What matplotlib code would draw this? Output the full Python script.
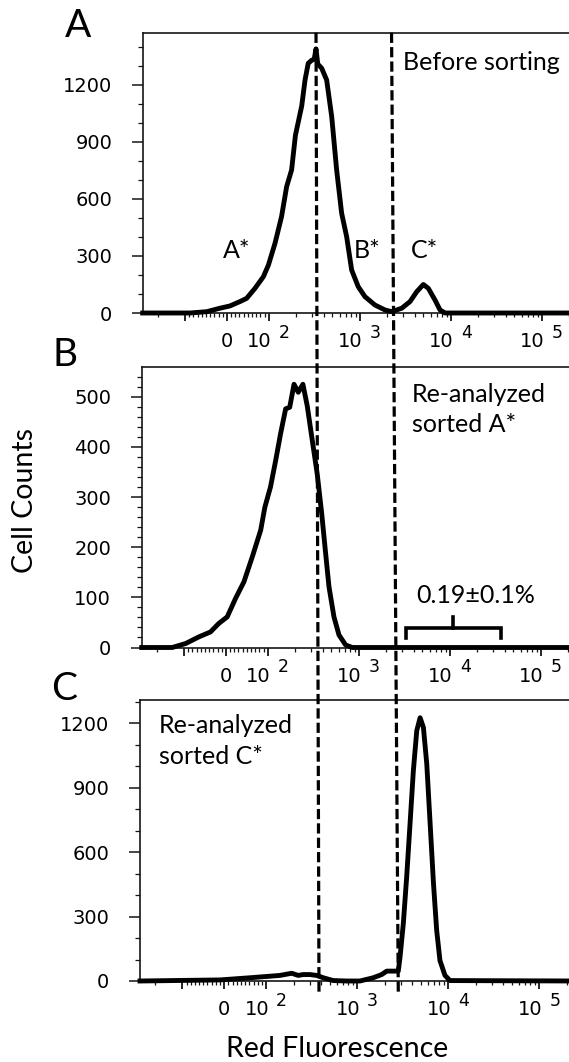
import numpy as np
import matplotlib
matplotlib.use('Agg')
import matplotlib.pyplot as plt
from matplotlib.lines import Line2D
from matplotlib.ticker import FixedLocator, NullFormatter

W, H, DPI = 569, 1062, 100

# ---------------- data ----------------
# Panel A: before sorting
a_x = [-292, -88, -48, -17, 7, 31, 47, 67, 87, 99, 117, 138, 157, 178, 196, 230,
       250, 271, 296, 315, 330, 345, 381, 432, 491, 556, 631, 716, 813, 961, 1138,
       1466, 1888, 2230, 2884, 3556, 4217, 4984, 5650, 6700, 7600, 8630, 262144]
a_y = [0, 0, 7, 25, 37, 60, 77, 130, 191, 252, 367, 507, 665, 753, 935, 1090,
       1226, 1314, 1330, 1335, 1390, 1310, 1288, 1226, 1033, 753, 525, 402, 226, 138, 86,
       42, 16, 7, 25, 60, 112, 150, 130, 68, 16, 0, 0]

# Panel B: re-analyzed sorted A*
b_x = [-292, -135, -96, -65, -37, -17, 3, 23, 43, 63, 83, 93, 107, 122, 138, 157,
       174, 194, 216, 243, 271, 308, 349, 391, 432, 470, 533, 605, 716, 847, 262144]
b_y = [0, 0, 8, 21, 31, 48, 61, 98, 131, 181, 234, 280, 320, 373, 426, 476,
       479, 525, 509, 525, 482, 413, 346, 267, 187, 121, 61, 25, 5, 0, 0]

# Panel C: re-analyzed sorted C*
c_x = [-292, -10, 61, 101, 142, 191, 225, 256, 303, 359, 425, 547, 767, 1074, 1500,
       1862, 2113, 2831, 2958, 3214, 3499, 3811, 4146, 4518, 4919, 5345, 5820, 6339,
       6900, 7480, 8128, 9226, 10471, 262144]
c_y = [0, 5, 15, 21, 26, 36, 26, 30, 30, 26, 15, 2, 0, 0, 15,
       30, 46, 46, 110, 266, 483, 731, 979, 1165, 1225, 1180, 1010, 731,
       452, 235, 95, 26, 2, 0]

# gate positions (top panel / bottom panel)
gate_top = [330, 2230]
gate_bottom = [381, 2831]

# bracket in panel B
bracket_x = [3258, 36500]
bracket_mid = 10700
bracket_y = [19, 39, 61]

# axes
x_lim = [-292, 262144]
x_major = [-100, 0, 100, 1000, 10000, 100000]
x_minor = ([-300, -200] + list(range(-90, 0, 10)) + list(range(10, 100, 10)) +
           list(range(200, 1000, 100)) + list(range(2000, 10000, 1000)) +
           list(range(20000, 100000, 10000)) + [200000])
x_lab_vals = [0, 100, 1000, 10000, 100000]
x_lab_base = ['0', '10', '10', '10', '10']
x_lab_exp = ['', '2', '3', '4', '5']

ylims = [1475, 560, 1310]
y_major = [[0, 300, 600, 900, 1200], [0, 100, 200, 300, 400, 500], [0, 300, 600, 900, 1200]]
y_minor_step = [100, 20, 100]

# ---------------- figure ----------------
plt.rcParams['font.family'] = ['DejaVu Sans']
fig = plt.figure(figsize=(W / DPI, H / DPI), dpi=DPI)


def P(x, y):
    return x / W, 1 - y / H


AX_W = 437.3
# (left px, top px, bottom px)
geo = [(142.7, 32.7, 313.0), (141.7, 366.7, 647.5), (140.0, 699.5, 981.0)]
axes = []
for (l, t, b) in geo:
    ax = fig.add_axes([l / W, 1 - b / H, AX_W / W, (b - t) / H])
    axes.append(ax)

SPINE = '#151515'
NUM_FONT = 'DejaVu Sans'
TXT_FONT = ['Lato', 'DejaVu Sans']

series = [(a_x, a_y), (b_x, b_y), (c_x, c_y)]
for i, ax in enumerate(axes):
    ax.set_xscale('symlog', linthresh=100, linscale=0.414)
    ax.set_xlim(*x_lim)
    ax.set_ylim(0, ylims[i])
    xs, ys = series[i]
    ax.plot(xs, ys, color='black', lw=3.5, solid_joinstyle='round', clip_on=False, zorder=3)

    ax.xaxis.set_major_locator(FixedLocator(x_major))
    ax.xaxis.set_minor_locator(FixedLocator(x_minor))
    ax.xaxis.set_major_formatter(NullFormatter())
    ax.xaxis.set_minor_formatter(NullFormatter())
    ax.tick_params(axis='x', which='major', length=6, width=1.3, direction='out', color=SPINE)
    ax.tick_params(axis='x', which='minor', length=3, width=0.9, direction='out', color=SPINE)

    ym = y_major[i]
    ax.yaxis.set_major_locator(FixedLocator(ym))
    ax.yaxis.set_minor_locator(FixedLocator(list(np.arange(0, ylims[i], y_minor_step[i]))))
    ax.tick_params(axis='y', which='major', length=8, width=1.1, pad=14, labelsize=14,
                   color=SPINE, direction='out')
    ax.tick_params(axis='y', which='minor', length=3.8, width=0.9, color=SPINE, direction='out')
    for lab in ax.get_yticklabels():
        lab.set_fontfamily(NUM_FONT)

    for s in ax.spines.values():
        s.set_linewidth(1.2)
        s.set_color(SPINE)

    # custom x tick labels "0  10 ^2 ..."
    for v, base, ex in zip(x_lab_vals, x_lab_base, x_lab_exp):
        if ex == '':
            ax.annotate(base, xy=(v, 0), xycoords=('data', 'axes fraction'),
                        xytext=(0, -34 * 0.72), textcoords='offset points',
                        ha='center', va='baseline', fontsize=14, family=NUM_FONT)
        else:
            ax.annotate(base, xy=(v, 0), xycoords=('data', 'axes fraction'),
                        xytext=(3 * 0.72, -34 * 0.72), textcoords='offset points',
                        ha='right', va='baseline', fontsize=14, family=NUM_FONT)
            ax.annotate(ex, xy=(v, 0), xycoords=('data', 'axes fraction'),
                        xytext=(10 * 0.72, -24.5 * 0.72), textcoords='offset points',
                        ha='left', va='baseline', fontsize=12.5, family=NUM_FONT)

# bracket in panel B
axB = axes[1]
axB.plot([bracket_x[0], bracket_x[0], bracket_x[1], bracket_x[1]],
         [bracket_y[0], bracket_y[1], bracket_y[1], bracket_y[0]],
         color='black', lw=2.6, solid_joinstyle='miter')
axB.plot([bracket_mid, bracket_mid], [bracket_y[1], bracket_y[2]], color='black', lw=2.6)

# dashed gate lines through all panels
axA, axC = axes[0], axes[2]
inv = fig.transFigure.inverted()
for gt, gb in zip(gate_top, gate_bottom):
    x0, y0 = axA.transData.transform((gt, ylims[0]))
    x1, y1 = axC.transData.transform((gb, 0))
    y1 -= 11
    (fx0, fy0), (fx1, fy1) = inv.transform([(x0, y0), (x1, y1)])
    fig.add_artist(Line2D([fx0, fx1], [fy0, fy1], transform=fig.transFigure,
                          color='black', lw=2.3, dashes=(3.2, 1.3), zorder=5))

# texts
def T(x, y, s, size, **kw):
    fig.text(*P(x, y), s, fontsize=size, family=TXT_FONT, ha='left', va='baseline', **kw)

T(403, 70, 'Before sorting', 18)
T(223, 258, 'A*', 18)
T(354, 258, 'B*', 18)
T(411, 258, 'C*', 18)
T(412, 401.7, 'Re-analyzed', 18)
T(412, 431.7, 'sorted A*', 18)
T(416, 602.7, '0.19\u00b10.1%', 18)
T(159, 733.3, 'Re-analyzed', 18)
T(159, 764, 'sorted C*', 18)

T(65, 37, 'A', 28)
T(52, 366, 'B', 28)
T(51, 700, 'C', 28)

fig.text(*P(25, 501), 'Cell Counts', fontsize=20.5, family=TXT_FONT, rotation=90,
         ha='center', va='center')
fig.text(*P(336.7, 1056.7), 'Red Fluorescence', fontsize=20.5, family=TXT_FONT,
         ha='center', va='baseline')

fig.savefig('out.png', dpi=DPI)
